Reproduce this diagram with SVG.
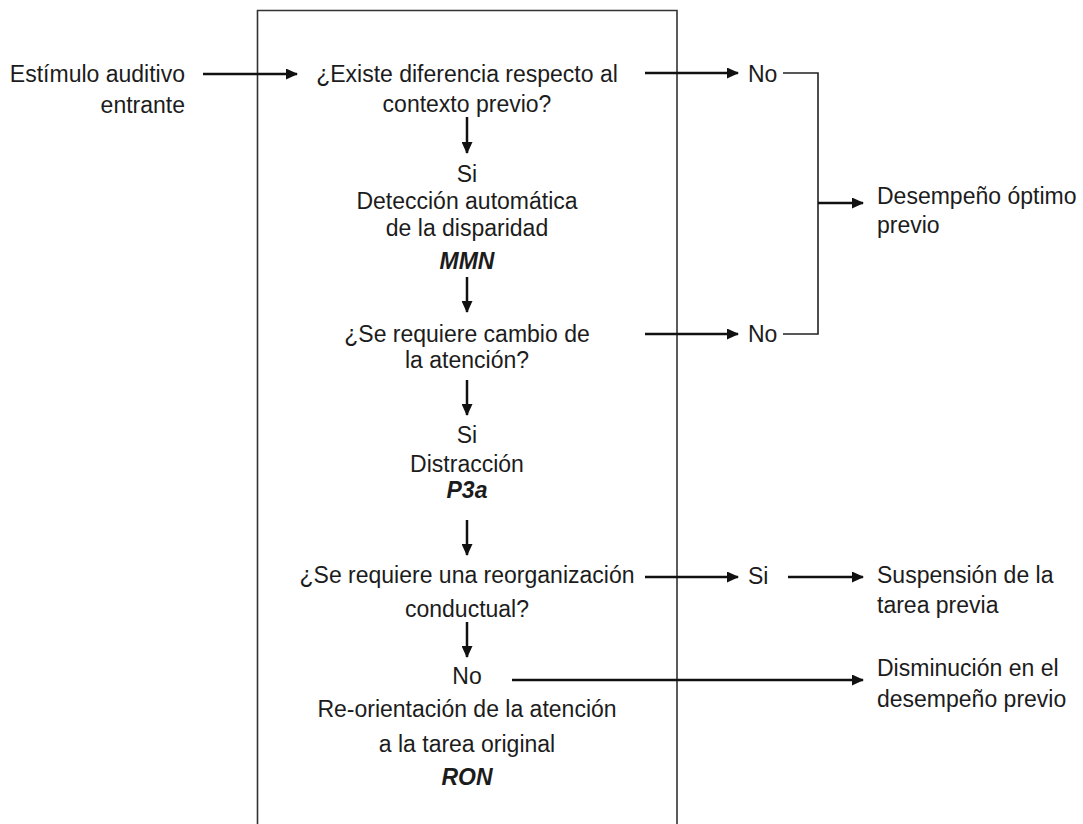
<svg xmlns="http://www.w3.org/2000/svg" width="1083" height="824" viewBox="0 0 1083 824">
<style>
text{font-family:"Liberation Sans",Arial,sans-serif;font-size:23px;fill:#1c1c1c}
.c{text-anchor:middle}
.r{text-anchor:end}
.bi{font-weight:bold;font-style:italic}
.a{stroke:#111;stroke-width:2.5;fill:none;marker-end:url(#ah)}
.t{stroke:#222;stroke-width:1.6;fill:none}
</style>
<defs>
<marker id="ah" markerUnits="userSpaceOnUse" markerWidth="12" markerHeight="11" refX="11" refY="5.5" orient="auto">
<path d="M0,0 L12,5.5 L0,11 z" fill="#111"/>
</marker>
</defs>
<rect width="1083" height="824" fill="#fff"/>
<g id="frame"><path d="M257.5,830 V10.5 H677 V830" fill="none" stroke="#333" stroke-width="1.6"/></g>
<g id="connectors">
<line class="a" x1="203" y1="74" x2="297" y2="74"/>
<line class="a" x1="645" y1="73" x2="738" y2="73"/>
<polyline class="t" points="783,73 818,73 818,334 783,334"/>
<line class="a" x1="645" y1="334" x2="738" y2="334"/>
<line class="a" x1="818" y1="203" x2="863" y2="203"/>
<line class="a" x1="467" y1="117" x2="467" y2="153"/>
<line class="a" x1="467" y1="277" x2="467" y2="312"/>
<line class="a" x1="467" y1="380" x2="467" y2="415"/>
<line class="a" x1="467" y1="520" x2="467" y2="555"/>
<line class="a" x1="467" y1="622" x2="467" y2="657"/>
<line class="a" x1="645" y1="577" x2="738" y2="577"/>
<line class="a" x1="788" y1="577" x2="863" y2="577"/>
<line class="a" x1="512" y1="680" x2="863" y2="680"/>
</g>
<g id="input"><text class="r" x="185" y="82">Estímulo auditivo</text><text class="r" x="185" y="113">entrante</text></g>
<g id="q1"><text class="c" x="467" y="82">¿Existe diferencia respecto al</text><text class="c" x="467" y="112">contexto previo?</text></g>
<g id="mmn"><text class="c" x="467" y="182">Si</text><text class="c" x="467" y="209">Detección automática</text><text class="c" x="467" y="236">de la disparidad</text><text class="c bi" x="467" y="269">MMN</text></g>
<g id="q2"><text class="c" x="467" y="342">¿Se requiere cambio de</text><text class="c" x="467" y="368">la atención?</text></g>
<g id="p3a"><text class="c" x="467" y="443">Si</text><text class="c" x="467" y="472">Distracción</text><text class="c bi" x="467" y="498">P3a</text></g>
<g id="q3"><text class="c" x="467" y="583">¿Se requiere una reorganización</text><text class="c" x="467" y="617">conductual?</text></g>
<g id="ron"><text class="c" x="467" y="684">No</text><text class="c" x="467" y="717">Re-orientación de la atención</text><text class="c" x="467" y="752">a la tarea original</text><text class="c bi" x="467" y="785">RON</text></g>
<g id="no1"><text x="748" y="82">No</text></g>
<g id="no2"><text x="748" y="342">No</text></g>
<g id="optimo"><text x="877" y="204">Desempeño óptimo</text><text x="877" y="233">previo</text></g>
<g id="si3"><text x="748" y="584">Si</text></g>
<g id="suspension"><text x="877" y="583">Suspensión de la</text><text x="877" y="613">tarea previa</text></g>
<g id="disminucion"><text x="877" y="676">Disminución en el</text><text x="877" y="707">desempeño previo</text></g>
</svg>
